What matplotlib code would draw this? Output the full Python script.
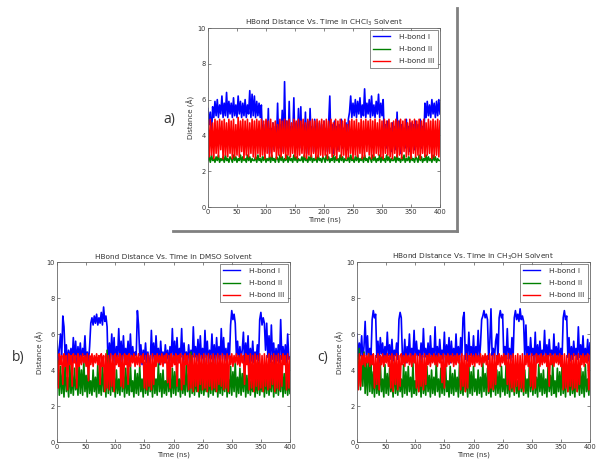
import matplotlib
matplotlib.use("Agg")
import matplotlib.pyplot as plt
from matplotlib.lines import Line2D

# time axis shared by every trace (ns), one sample every 2 ns
time_ns = list(range(0, 401, 2))

# a) CHCl3
blue_a = [5.5, 4.6, 5.3, 3.9, 5.6, 5.0, 5.9, 5.1, 6.0, 5.0, 5.7, 5.2, 6.2, 5.0, 5.8, 5.1, 6.4, 5.0, 5.9, 5.2,
          5.8, 5.0, 6.1, 5.1, 5.7, 5.0, 6.2, 5.2, 5.9, 5.0, 5.8, 5.1, 6.0, 5.0, 5.7, 5.2, 6.5, 5.0, 6.3, 5.1,
          6.2, 5.0, 5.9, 5.1, 5.8, 5.0, 5.7, 3.6, 4.6, 3.1, 4.8, 3.4, 5.5, 3.0, 4.4, 3.8, 4.7, 3.2, 4.5, 3.5,
          5.8, 3.3, 4.6, 3.9, 5.4, 3.1, 7.0, 3.6, 4.8, 3.2, 5.9, 3.4, 4.5, 3.8, 6.1, 3.1, 4.7, 3.5, 5.5, 3.3,
          5.6, 3.2, 4.6, 3.7, 5.3, 3.0, 4.8, 3.4, 5.5, 3.6, 4.5, 3.1, 4.9, 3.8, 4.4, 3.3, 4.7, 3.5, 4.6, 3.2,
          4.8, 3.6, 4.4, 3.1, 4.7, 6.2, 3.4, 4.6, 3.0, 4.8, 3.7, 4.5, 3.2, 4.6, 3.5, 4.9, 3.3, 4.4, 3.8, 4.7,
          3.2, 4.9, 5.3, 6.2, 5.0, 5.8, 5.1, 6.0, 5.0, 5.9, 5.2, 6.1, 5.0, 5.7, 5.1, 6.6, 5.0, 5.8, 5.2, 6.0,
          5.0, 6.2, 5.1, 5.7, 5.0, 5.9, 5.2, 6.3, 5.0, 5.8, 5.1, 6.0, 3.8, 4.6, 3.3, 4.8, 3.5, 4.4, 3.1, 4.7,
          3.6, 4.5, 3.2, 5.3, 3.4, 4.8, 3.0, 4.6, 3.7, 4.4, 3.3, 4.9, 3.5, 4.5, 3.1, 4.7, 3.8, 4.6, 3.2, 4.8,
          3.4, 4.6, 3.7, 4.9, 3.3, 4.5, 3.6, 5.8, 5.0, 5.9, 5.1, 5.7, 5.0, 6.0, 5.2, 5.8, 5.0, 5.9, 5.1, 6.0,
          5.2]
green_a = [2.6, 2.8, 2.5, 2.9, 2.6, 2.7, 2.5, 2.8, 2.6, 2.9, 2.5, 2.7, 2.6, 2.8, 2.5, 2.9, 2.6, 2.7, 2.5, 2.8,
           2.7, 2.5, 2.9, 2.6, 2.8, 2.5, 2.7, 2.6, 2.9, 2.5, 2.8, 2.6, 2.7, 2.5, 2.9, 2.6, 2.8, 2.5, 2.7, 2.6,
           2.6, 2.8, 2.5, 2.9, 2.6, 2.7, 2.5, 2.8, 2.6, 2.9, 2.5, 2.7, 2.6, 2.8, 2.5, 2.9, 2.6, 2.7, 2.5, 2.8,
           2.7, 2.5, 2.9, 2.6, 2.8, 2.5, 2.7, 2.6, 2.9, 2.5, 2.8, 2.6, 2.7, 2.5, 2.9, 2.6, 2.8, 2.5, 2.7, 2.6,
           2.6, 2.8, 2.5, 2.9, 2.6, 2.7, 2.5, 2.8, 2.6, 2.9, 2.5, 2.7, 2.6, 2.8, 2.5, 2.9, 2.6, 2.7, 2.5, 2.8,
           2.7, 2.5, 2.9, 2.6, 2.8, 2.5, 2.7, 2.6, 2.9, 2.5, 2.8, 2.6, 2.7, 2.5, 2.9, 2.6, 2.8, 2.5, 2.7, 2.6,
           2.6, 2.8, 2.5, 2.9, 2.6, 2.7, 2.5, 2.8, 2.6, 2.9, 2.5, 2.7, 2.6, 2.8, 2.5, 2.9, 2.6, 2.7, 2.5, 2.8,
           2.7, 2.5, 2.9, 2.6, 2.8, 2.5, 2.7, 2.6, 2.9, 2.5, 2.8, 2.6, 2.7, 2.5, 2.9, 2.6, 2.8, 2.5, 2.7, 2.6,
           2.6, 2.8, 2.5, 2.9, 2.6, 2.7, 2.5, 2.8, 2.6, 2.9, 2.5, 2.7, 2.6, 2.8, 2.5, 2.9, 2.6, 2.7, 2.5, 2.8,
           2.7, 2.5, 2.9, 2.6, 2.8, 2.5, 2.7, 2.6, 2.9, 2.5, 2.8, 2.6, 2.7, 2.5, 2.9, 2.6, 2.8, 2.5, 2.7, 2.6,
           2.6]
red_a = [4.8, 2.8, 4.9, 2.9, 4.7, 2.7, 4.9, 3.0, 4.8, 2.8, 4.9, 3.2, 4.8, 2.7, 4.9, 2.9, 4.7, 2.8, 4.9, 3.0,
         4.8, 2.7, 4.9, 2.8, 4.6, 2.9, 5.0, 2.8, 4.8, 3.1, 4.9, 2.7, 4.8, 2.9, 4.9, 2.8, 4.7, 3.0, 4.9, 2.8,
         4.8, 2.7, 4.9, 3.0, 4.8, 2.8, 4.9, 2.9, 4.8, 2.7, 4.9, 3.0, 4.8, 2.8, 4.9, 2.8, 4.7, 3.1, 4.8, 2.7,
         4.6, 2.9, 4.9, 2.8, 4.8, 3.0, 4.9, 2.7, 4.8, 2.9, 4.9, 2.8, 4.7, 3.0, 4.9, 2.8, 4.8, 2.7, 4.9, 2.9,
         4.8, 3.0, 4.9, 2.8, 4.7, 2.7, 4.9, 2.9, 4.8, 2.8, 4.9, 3.0, 4.8, 2.7, 4.9, 2.8, 4.8, 2.9, 4.9, 2.8,
         4.8, 2.9, 4.9, 2.7, 4.8, 3.0, 4.9, 2.8, 4.7, 2.9, 4.9, 2.7, 4.8, 3.1, 4.9, 2.8, 4.8, 2.9, 4.9, 2.7,
         4.6, 2.8, 4.8, 3.0, 4.9, 2.7, 4.8, 2.9, 4.9, 2.8, 4.7, 3.0, 4.9, 2.7, 4.8, 2.8, 4.9, 3.1, 4.8, 2.9,
         4.9, 2.7, 4.8, 2.8, 4.9, 3.0, 4.7, 2.9, 4.9, 2.8, 4.8, 2.7, 4.9, 3.0, 4.8, 2.9, 4.9, 2.8, 4.7, 2.7,
         4.8, 3.0, 4.9, 2.8, 4.8, 2.9, 4.9, 2.7, 4.8, 3.1, 4.9, 2.8, 4.7, 2.9, 4.9, 2.7, 4.8, 3.0, 4.9, 2.8,
         4.8, 2.9, 4.9, 2.7, 4.8, 3.0, 4.9, 2.8, 4.7, 2.9, 4.9, 3.0, 4.8, 2.7, 4.9, 2.8, 4.8, 2.9, 4.9, 2.8,
         4.8]

# b) DMSO
blue_b = [5.6, 4.4, 5.2, 6.0, 4.6, 7.0, 6.4, 4.8, 5.4, 4.3, 5.1, 4.6, 5.2, 4.4, 5.8, 4.5, 5.6, 4.3, 5.3, 4.6,
          5.5, 4.4, 5.2, 4.8, 5.9, 4.5, 5.0, 4.4, 5.3, 6.6, 6.9, 6.5, 7.0, 6.6, 7.1, 6.5, 6.9, 6.6, 7.2, 6.5,
          7.5, 6.7, 7.0, 6.4, 3.8, 5.5, 4.6, 6.0, 4.5, 5.8, 4.3, 5.3, 4.7, 6.3, 4.5, 5.6, 4.4, 5.9, 4.6, 5.2,
          4.7, 5.6, 4.4, 6.0, 4.6, 5.3, 4.5, 5.0, 4.8, 7.3, 6.5, 4.8, 5.4, 4.3, 5.1, 4.6, 5.5, 4.4, 5.0, 4.5,
          4.3, 6.2, 4.6, 5.5, 4.4, 5.9, 4.7, 5.2, 4.3, 5.6, 4.5, 5.0, 4.4, 5.4, 4.6, 5.1, 4.3, 5.3, 4.5, 6.3,
          4.6, 5.6, 4.4, 5.8, 4.5, 5.2, 4.7, 6.3, 4.3, 5.5, 4.6, 5.0, 4.4, 5.4, 4.5, 5.1, 4.3, 6.4, 4.7, 5.3,
          4.5, 5.7, 4.4, 5.9, 4.6, 5.2, 4.3, 6.2, 4.7, 5.6, 4.4, 5.1, 4.6, 6.0, 4.5, 5.4, 4.3, 5.8, 4.6, 5.3,
          4.4, 6.3, 4.6, 5.8, 4.5, 5.2, 4.4, 5.5, 4.6, 6.5, 7.3, 6.8, 7.1, 6.6, 4.8, 5.6, 4.4, 5.3, 4.6, 5.1,
          6.1, 4.4, 5.5, 4.6, 5.9, 4.3, 5.2, 4.5, 5.6, 4.4, 5.0, 4.6, 5.4, 4.5, 6.8, 7.2, 6.5, 6.9, 6.6, 5.1,
          6.6, 4.7, 5.9, 4.4, 6.5, 4.6, 5.5, 4.3, 5.2, 4.5, 5.4, 4.4, 6.8, 4.6, 5.3, 4.5, 5.4, 4.4, 6.0, 4.6,
          4.7]
green_b = [3.2, 4.5, 2.6, 4.2, 2.7, 3.9, 2.5, 4.4, 2.8, 3.6, 2.5, 4.3, 2.7, 3.8, 2.6, 4.1, 2.9, 3.5, 2.6, 4.4,
           2.7, 4.0, 2.6, 4.5, 2.8, 3.7, 2.5, 4.2, 2.7, 3.4, 2.6, 4.0, 2.8, 3.6, 2.5, 4.3, 2.7, 3.5, 2.6, 4.4,
           2.8, 3.9, 2.5, 5.1, 2.7, 4.6, 2.6, 4.2, 2.8, 3.7, 2.5, 4.0, 2.7, 3.5, 2.6, 4.4, 2.8, 3.9, 2.5, 4.1,
           2.7, 3.6, 2.6, 4.3, 2.8, 3.4, 2.5, 4.0, 2.7, 3.8, 2.6, 4.2, 2.8, 3.5, 2.5, 4.4, 2.7, 3.7, 2.6, 4.1,
           2.8, 3.6, 2.5, 4.3, 2.7, 3.5, 2.6, 4.4, 2.8, 3.8, 2.5, 4.0, 2.7, 3.4, 2.6, 4.2, 2.8, 3.7, 2.5, 4.1,
           2.7, 3.9, 2.6, 4.3, 2.8, 3.5, 2.5, 4.2, 2.7, 3.6, 2.6, 4.4, 2.8, 3.8, 2.5, 5.0, 2.7, 4.1, 2.6, 3.7,
           2.8, 4.0, 2.5, 3.6, 2.7, 4.3, 2.6, 3.4, 2.8, 4.1, 2.5, 3.8, 2.7, 4.4, 2.6, 3.5, 2.8, 4.2, 2.5, 3.7,
           2.7, 4.0, 2.6, 3.6, 2.8, 4.3, 2.5, 3.5, 2.7, 4.2, 2.6, 3.9, 2.8, 4.4, 2.5, 3.6, 2.7, 4.1, 2.6, 3.8,
           2.8, 4.3, 2.5, 3.7, 2.7, 4.0, 2.6, 3.4, 2.8, 4.2, 2.5, 3.6, 2.7, 4.4, 2.6, 3.5, 2.8, 4.1, 2.5, 3.9,
           2.7, 4.2, 2.6, 3.5, 2.8, 4.4, 2.5, 3.7, 2.7, 4.0, 2.6, 3.6, 2.8, 4.3, 2.5, 3.8, 2.7, 4.1, 2.6, 3.5,
           2.7]
red_b = [4.6, 3.0, 4.9, 4.3, 4.8, 3.2, 4.9, 4.2, 4.8, 2.9, 4.9, 4.3, 4.8, 3.1, 4.9, 4.4, 4.8, 3.0, 4.9, 4.2,
         4.8, 4.3, 4.9, 4.4, 4.8, 4.2, 4.9, 3.4, 4.8, 4.3, 4.9, 4.2, 4.8, 4.4, 4.9, 4.3, 4.8, 3.2, 4.9, 4.2,
         4.8, 2.8, 4.9, 3.0, 4.8, 2.9, 4.9, 3.1, 4.8, 2.8, 4.9, 4.3, 4.8, 4.2, 4.9, 3.1, 4.8, 3.0, 4.9, 4.3,
         4.8, 3.2, 4.9, 4.2, 4.8, 4.4, 4.9, 4.2, 4.8, 4.3, 4.9, 4.2, 4.8, 4.4, 4.9, 3.0, 4.8, 2.9, 4.9, 3.1,
         4.8, 2.9, 4.9, 3.2, 4.8, 4.2, 4.9, 4.4, 4.8, 4.3, 4.9, 4.2, 4.8, 4.4, 4.9, 3.3, 4.8, 3.0, 4.9, 4.2,
         4.8, 4.3, 4.9, 3.1, 4.8, 4.4, 4.9, 2.9, 4.8, 3.2, 4.9, 4.3, 4.8, 2.9, 4.9, 3.0, 4.8, 2.8, 4.9, 3.1,
         4.8, 2.8, 4.9, 3.2, 4.8, 2.9, 4.9, 3.0, 4.8, 2.8, 4.9, 3.1, 4.8, 2.9, 4.9, 3.0, 4.8, 2.8, 4.9, 3.2,
         4.8, 3.1, 4.9, 2.9, 4.8, 3.0, 4.9, 2.8, 4.8, 4.3, 4.9, 4.2, 4.8, 4.4, 4.9, 4.3, 4.8, 4.2, 4.9, 4.4,
         4.8, 3.2, 4.9, 4.3, 4.8, 2.9, 4.9, 3.0, 4.8, 2.8, 4.9, 3.1, 4.8, 2.9, 4.9, 3.0, 4.8, 2.8, 4.9, 3.1,
         4.8, 2.9, 4.9, 3.0, 4.8, 3.2, 4.9, 2.8, 4.8, 3.0, 4.9, 2.9, 4.8, 3.1, 4.9, 4.3, 4.8, 2.9, 4.9, 3.0,
         4.7]

# c) CH3OH
blue_c = [6.0, 4.6, 5.5, 4.8, 5.9, 4.5, 5.3, 6.7, 4.8, 5.9, 4.5, 5.2, 4.7, 6.8, 7.3, 6.9, 7.1, 4.7, 5.6, 4.4,
          5.8, 4.9, 5.5, 4.5, 5.3, 4.7, 6.1, 4.8, 5.4, 4.6, 5.7, 4.5, 5.1, 4.8, 5.5, 4.6, 6.8, 7.2, 6.9, 4.7,
          4.6, 5.7, 4.4, 5.3, 4.7, 6.0, 4.5, 5.2, 4.7, 6.2, 4.5, 5.6, 4.8, 5.1, 4.6, 5.5, 4.4, 6.3, 4.7, 5.2,
          4.6, 5.5, 4.4, 5.9, 4.7, 5.2, 4.5, 6.4, 4.6, 5.3, 4.5, 5.7, 4.8, 5.1, 4.6, 6.1, 4.4, 5.4, 4.7, 5.8,
          4.4, 5.6, 4.7, 5.2, 4.5, 6.0, 4.6, 5.3, 4.5, 5.8, 4.8, 6.9, 7.2, 4.6, 5.4, 4.5, 6.1, 4.8, 5.3, 4.6,
          5.9, 4.5, 5.3, 4.7, 6.2, 4.5, 5.4, 6.8, 7.0, 7.3, 6.9, 7.1, 6.8, 4.6, 5.5, 7.4, 4.8, 5.2, 4.6, 5.6,
          6.0, 4.5, 6.9, 7.3, 6.9, 7.1, 4.7, 5.3, 4.6, 6.3, 4.6, 5.2, 4.5, 5.8, 4.7, 6.9, 7.3, 6.8, 7.1, 6.7,
          7.4, 6.8, 7.0, 6.7, 4.7, 6.5, 4.5, 5.3, 4.6, 5.8, 4.8, 5.2, 4.5, 6.1, 4.4, 5.4, 4.6, 5.6, 4.7, 5.1,
          4.7, 6.2, 4.5, 5.4, 4.6, 5.7, 4.8, 5.1, 4.5, 6.0, 4.6, 5.3, 4.7, 5.5, 4.4, 5.2, 4.6, 6.9, 7.3, 6.8,
          7.0, 4.7, 5.8, 4.5, 5.3, 4.6, 5.6, 4.8, 5.2, 4.6, 6.4, 4.7, 5.4, 4.6, 5.9, 4.5, 5.2, 4.6, 5.7, 4.5,
          5.5]
green_c = [4.8, 3.0, 5.2, 2.9, 4.6, 3.1, 5.0, 2.7, 4.4, 2.6, 4.9, 2.8, 4.5, 2.7, 3.9, 2.5, 4.2, 2.7, 3.6, 2.6,
           4.4, 2.8, 3.5, 2.5, 4.3, 2.7, 3.8, 2.6, 4.1, 2.8, 3.4, 2.5, 4.4, 2.7, 3.7, 2.6, 4.0, 2.8, 3.5, 2.5,
           4.3, 2.7, 3.9, 2.6, 4.2, 2.8, 3.6, 2.5, 4.4, 2.7, 3.4, 2.6, 4.1, 2.8, 3.8, 2.5, 4.5, 2.7, 3.5, 2.6,
           4.2, 2.8, 3.7, 2.5, 4.0, 2.7, 3.6, 2.6, 4.4, 2.8, 3.5, 2.5, 4.1, 2.7, 3.9, 2.6, 4.3, 2.8, 3.4, 2.5,
           4.2, 2.7, 3.8, 2.6, 4.0, 2.8, 3.6, 2.5, 4.4, 2.7, 3.5, 2.6, 4.1, 2.8, 3.7, 2.5, 4.3, 2.7, 3.9, 2.6,
           4.2, 2.8, 3.5, 2.6, 4.0, 2.7, 3.6, 2.5, 4.4, 2.8, 3.8, 2.6, 4.1, 2.7, 3.4, 2.5, 4.3, 2.8, 3.7, 2.6,
           4.0, 2.7, 3.9, 2.5, 4.2, 2.8, 3.5, 2.6, 4.4, 2.7, 3.6, 2.5, 4.1, 2.8, 3.8, 2.6, 4.3, 2.7, 3.4, 2.5,
           4.2, 2.8, 3.7, 2.6, 4.0, 2.7, 3.5, 2.5, 4.4, 2.8, 3.9, 2.6, 4.1, 2.7, 3.6, 2.5, 4.3, 2.8, 3.8, 2.6,
           4.0, 2.7, 3.5, 2.5, 4.2, 2.8, 3.7, 2.6, 4.4, 2.7, 3.4, 2.5, 4.1, 2.8, 3.9, 2.6, 4.3, 2.7, 3.6, 2.5,
           4.2, 2.8, 3.8, 2.6, 4.0, 2.7, 3.5, 2.5, 4.4, 2.8, 3.7, 2.6, 4.1, 2.7, 3.9, 2.5, 4.3, 2.8, 3.5, 2.6,
           4.0]
red_c = [4.7, 2.9, 4.9, 3.1, 4.8, 4.3, 4.9, 4.2, 4.8, 4.4, 4.9, 4.2, 4.8, 4.3, 4.9, 3.0, 4.8, 3.2, 4.9, 2.9,
         4.8, 4.3, 4.9, 4.2, 4.8, 4.4, 4.9, 4.2, 4.8, 3.0, 4.9, 2.8, 4.8, 3.2, 4.9, 2.9, 4.8, 3.1, 4.9, 4.3,
         4.8, 4.2, 4.9, 4.4, 4.8, 4.3, 4.9, 4.2, 4.8, 4.4, 4.9, 3.0, 4.8, 2.8, 4.9, 3.1, 4.8, 2.9, 4.9, 3.2,
         4.8, 4.3, 4.9, 4.2, 4.8, 4.4, 4.9, 4.3, 4.8, 4.2, 4.9, 4.4, 4.8, 3.3, 4.9, 3.0, 4.8, 4.2, 4.9, 4.3,
         4.8, 4.4, 4.9, 4.2, 4.8, 4.3, 4.9, 4.4, 4.8, 2.9, 4.9, 3.1, 4.8, 2.8, 4.9, 3.0, 4.8, 4.2, 4.9, 4.3,
         4.8, 4.2, 4.9, 4.4, 4.8, 4.3, 4.9, 4.2, 4.8, 4.4, 4.9, 4.3, 4.8, 2.8, 4.9, 3.0, 4.8, 2.9, 4.9, 3.2,
         4.8, 4.3, 4.9, 4.2, 4.8, 4.4, 4.9, 4.3, 4.8, 3.2, 4.9, 2.9, 4.8, 3.0, 4.9, 2.8, 4.8, 3.1, 4.9, 2.9,
         4.8, 3.0, 4.9, 2.8, 4.8, 4.3, 4.9, 4.2, 4.8, 3.1, 4.9, 2.9, 4.8, 3.0, 4.9, 4.4, 4.8, 4.2, 4.9, 4.3,
         4.8, 4.4, 4.9, 4.2, 4.8, 3.1, 4.9, 4.3, 4.8, 4.2, 4.9, 4.4, 4.8, 4.3, 4.9, 4.2, 4.8, 2.9, 4.9, 3.0,
         4.8, 2.8, 4.9, 3.1, 4.8, 2.9, 4.9, 3.0, 4.8, 2.8, 4.9, 3.2, 4.8, 4.3, 4.9, 4.2, 4.8, 4.4, 4.9, 2.9,
         4.8]

labels = ['H-bond I', 'H-bond II', 'H-bond III']
titles = [r'HBond Distance Vs. Time in CHCl$_3$ Solvent',
          'HBond Distance Vs. Time in DMSO Solvent',
          r'HBond Distance Vs. Time in CH$_3$OH Solvent']

W, H = 600, 465
fig = plt.figure(figsize=(6, 4.65), dpi=100)


def px_axes(left, top, right, bottom):
    return fig.add_axes([left / W, 1 - bottom / H, (right - left) / W, (bottom - top) / H])


def draw_panel(ax, blue, green, red, title):
    ax.plot(time_ns, blue, color='b', lw=1.2)
    ax.plot(time_ns, green, color='g', lw=1.2)
    ax.plot(time_ns, red, color='r', lw=1.2)
    ax.set_xlim(0, 400)
    ax.set_ylim(0, 10)
    ax.set_xticks(range(0, 401, 50))
    ax.set_yticks(range(0, 11, 2))
    ax.tick_params(direction='in', top=True, right=True, length=2.5, width=0.5,
                   labelsize=4.8, labelcolor='#333333', color='#555555', pad=1.5)
    for s in ax.spines.values():
        s.set_linewidth(0.6)
        s.set_color('#666666')
    ax.set_title(title, fontsize=5.3, color='#333333', pad=2)
    ax.set_xlabel('Time (ns)', fontsize=5, color='#333333', labelpad=1)
    ax.set_ylabel('Distance (Å)', fontsize=5, color='#333333', labelpad=2)
    handles = [Line2D([], [], color=c, lw=1.0) for c in ('b', 'g', 'r')]
    leg = ax.legend(handles, labels, loc='upper right', fontsize=5.3, frameon=True,
                    fancybox=False, borderaxespad=0.25, handlelength=2.2,
                    handletextpad=1.3, labelspacing=0.85, borderpad=0.5)
    leg.get_frame().set_edgecolor('#555555')
    leg.get_frame().set_linewidth(0.6)
    for t in leg.get_texts():
        t.set_color('#333333')


ax_a = px_axes(208, 28, 440, 207)
draw_panel(ax_a, blue_a, green_a, red_a, titles[0])
ax_b = px_axes(57, 262, 290, 442)
draw_panel(ax_b, blue_b, green_b, red_b, titles[1])
ax_c = px_axes(357, 262, 590, 442)
draw_panel(ax_c, blue_c, green_c, red_c, titles[2])

# panel letters
fig.text(163 / W, 1 - 120 / H, 'a)', fontsize=10, family='Open Sans', color='#333333', va='center')
fig.text(12 / W, 1 - 357 / H, 'b)', fontsize=10, family='Open Sans', color='#333333', va='center')
fig.text(317 / W, 1 - 357 / H, 'c)', fontsize=10, family='Open Sans', color='#333333', va='center')

# gray frame around panel a
fig.add_artist(Line2D([173 / W, 457 / W], [1 - 231 / H, 1 - 231 / H], color='#808080', lw=2))
fig.add_artist(Line2D([457 / W, 457 / W], [1 - 231 / H, 1 - 8 / H], color='#808080', lw=2))

fig.savefig('out.png', dpi=100)
